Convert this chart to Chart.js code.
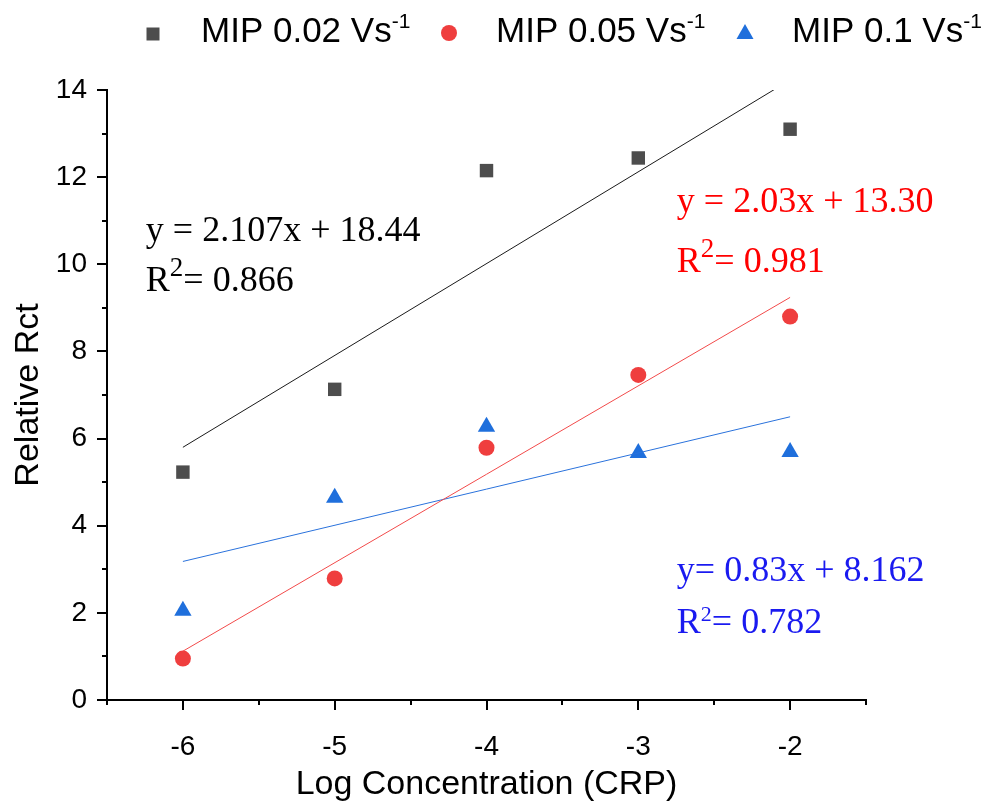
<!DOCTYPE html>
<html>
<head>
<meta charset="utf-8">
<script src="https://cdn.jsdelivr.net/npm/chart.js@4.4.0/dist/chart.umd.min.js"></script>
<style>
  body { margin: 0; background: #fff; }
  canvas { display: block; }
</style>
</head>
<body>
<canvas id="scatterChart" width="984" height="805"></canvas>
<script>
// measured points, log concentration vs relative Rct
const logConc = [-6, -5, -4, -3, -2]
const mip002 = [5.23, 7.13, 12.15, 12.44, 13.1]
const mip005 = [0.95, 2.79, 5.79, 7.46, 8.8]
const mip01 = [2.05, 4.64, 6.27, 5.67, 5.69]

// fit line ends
const fitX = [-6, -2]
const fit002 = [5.8, 14.23]
const fit005 = [1.12, 9.24]
const fit01 = [3.18, 6.5]

const seriesNames = ['MIP 0.02 Vs', 'MIP 0.05 Vs', 'MIP 0.1 Vs']
const xTickLabels = ['-6', '-5', '-4', '-3', '-2']
const xMajor = [-6, -5, -4, -3, -2]
const xMinor = [-6.5, -5.5, -4.5, -3.5, -2.5, -1.5]
const yMajor = [0, 2, 4, 6, 8, 10, 12, 14]
const yMinor = [1, 3, 5, 7, 9, 11, 13]

const GRAY = '#4d4d4d'
const RED = '#ef3e3e'
const BLUE = '#1f6fdc'
const SERIF = '"Liberation Serif", "Times New Roman", serif'

const pts = (xs, ys) => xs.map((x, i) => ({ x: x, y: ys[i] }))

// equation labels, anchored in data coordinates
const notes = [
  { x: -6.244, y: 10.53, color: '#000', eq: 'y = 2.107x + 18.44', r2: '= 0.866', y2: 9.39, sup: 27, lift: 15 },
  { x: -2.746, y: 11.2, color: '#ff0000', eq: 'y = 2.03x + 13.30', r2: '= 0.981', y2: 9.82, sup: 27, lift: 15 },
  { x: -2.746, y: 2.73, color: '#1a1af0', eq: 'y= 0.83x + 8.162', r2: '= 0.782', y2: 1.54, sup: 22, lift: 12 }
]

const axisTicks = {
  id: 'axisTicks',
  afterDraw (chart) {
    const ctx = chart.ctx
    const xs = chart.scales.x
    const ys = chart.scales.y
    const bottom = chart.chartArea.bottom
    const left = chart.chartArea.left
    ctx.save()
    ctx.strokeStyle = '#000'
    ctx.lineWidth = 2
    ctx.beginPath()
    xMajor.forEach(v => { const p = Math.round(xs.getPixelForValue(v)); ctx.moveTo(p, bottom); ctx.lineTo(p, bottom + 10) })
    xMinor.forEach(v => { const p = Math.round(xs.getPixelForValue(v)); ctx.moveTo(p, bottom); ctx.lineTo(p, bottom + 5) })
    yMajor.forEach(v => { const p = Math.round(ys.getPixelForValue(v)); ctx.moveTo(left, p); ctx.lineTo(left - 10, p) })
    yMinor.forEach(v => { const p = Math.round(ys.getPixelForValue(v)); ctx.moveTo(left, p); ctx.lineTo(left - 5, p) })
    ctx.stroke()

    // fit equations
    notes.forEach(n => {
      const px = xs.getPixelForValue(n.x)
      ctx.fillStyle = n.color
      ctx.textBaseline = 'alphabetic'
      ctx.font = '36px ' + SERIF
      ctx.fillText(n.eq, px, ys.getPixelForValue(n.y))
      const py2 = ys.getPixelForValue(n.y2)
      ctx.fillText('R', px, py2)
      let w = ctx.measureText('R').width
      ctx.font = n.sup + 'px ' + SERIF
      ctx.fillText('2', px + w, py2 - n.lift)
      w += ctx.measureText('2').width
      ctx.font = '36px ' + SERIF
      ctx.fillText(n.r2, px + w, py2)
    })

    // legend row
    const legendY = 34
    const items = [
      { mx: 153, tx: 201, color: GRAY, shape: 'square' },
      { mx: 449, tx: 496, color: RED, shape: 'circle' },
      { mx: 745, tx: 792, color: BLUE, shape: 'triangle' }
    ]
    items.forEach((it, i) => {
      ctx.fillStyle = it.color
      ctx.beginPath()
      if (it.shape === 'square') ctx.rect(it.mx - 6.5, legendY - 6.5, 13, 13)
      else if (it.shape === 'circle') ctx.arc(it.mx, legendY - 1, 8, 0, Math.PI * 2)
      else { ctx.moveTo(it.mx, legendY - 10); ctx.lineTo(it.mx + 8.5, legendY + 5); ctx.lineTo(it.mx - 8.5, legendY + 5); ctx.closePath() }
      ctx.fill()
      ctx.fillStyle = '#000'
      ctx.font = '35px "Liberation Sans", Arial, sans-serif'
      ctx.fillText(seriesNames[i], it.tx, 42)
      const w = ctx.measureText(seriesNames[i]).width
      ctx.font = '21px "Liberation Sans", Arial, sans-serif'
      ctx.fillText('-1', it.tx + w, 28)
    })
    ctx.restore()
  }
}

new Chart(document.getElementById('scatterChart'), {
  type: 'scatter',
  data: {
    datasets: [
      { label: 'fit 0.02', type: 'line', data: pts(fitX, fit002), borderColor: '#1a1a1a', borderWidth: 1, pointRadius: 0, fill: false },
      { label: 'fit 0.05', type: 'line', data: pts(fitX, fit005), borderColor: '#f24a4a', borderWidth: 1, pointRadius: 0, fill: false },
      { label: 'fit 0.1', type: 'line', data: pts(fitX, fit01), borderColor: '#2a72dc', borderWidth: 1, pointRadius: 0, fill: false },
      { label: seriesNames[0], data: pts(logConc, mip002), pointStyle: 'rect', pointRadius: 9.5, backgroundColor: GRAY, borderWidth: 0 },
      { label: seriesNames[1], data: pts(logConc, mip005), pointStyle: 'circle', pointRadius: 8, backgroundColor: RED, borderWidth: 0 },
      { label: seriesNames[2], data: pts(logConc, mip01), pointStyle: 'triangle', pointRadius: 10, backgroundColor: BLUE, borderWidth: 0 }
    ]
  },
  options: {
    responsive: false,
    animation: false,
    layout: { padding: { top: 90, right: 118, left: 0, bottom: 0 } },
    plugins: {
      legend: { display: false },
      tooltip: { enabled: false }
    },
    scales: {
      x: {
        type: 'linear',
        min: -6.5,
        max: -1.5,
        afterBuildTicks: scale => { scale.ticks = xMajor.map(v => ({ value: v })) },
        afterFit: scale => { scale.height = 105 },
        grid: { display: false, drawTicks: false },
        border: { display: true, color: '#000', width: 2 },
        ticks: {
          color: '#000',
          padding: 30,
          font: { family: '"Liberation Sans", Arial, sans-serif', size: 28 },
          callback: (v, i) => xTickLabels[i]
        },
        title: {
          display: true,
          text: 'Log Concentration (CRP)',
          color: '#000',
          padding: { top: 0, bottom: 0 },
          font: { family: '"Liberation Sans", Arial, sans-serif', size: 34 }
        }
      },
      y: {
        min: 0,
        max: 14,
        afterBuildTicks: scale => { scale.ticks = yMajor.map(v => ({ value: v })) },
        afterFit: scale => { scale.width = 107 },
        grid: { display: false, drawTicks: false },
        border: { display: true, color: '#000', width: 2 },
        ticks: {
          color: '#000',
          padding: 20,
          font: { family: '"Liberation Sans", Arial, sans-serif', size: 28 }
        },
        title: {
          display: true,
          text: 'Relative Rct',
          color: '#000',
          padding: { top: 8, bottom: 0 },
          font: { family: '"Liberation Sans", Arial, sans-serif', size: 34 }
        }
      }
    }
  },
  plugins: [axisTicks]
})
</script>
</body>
</html>
